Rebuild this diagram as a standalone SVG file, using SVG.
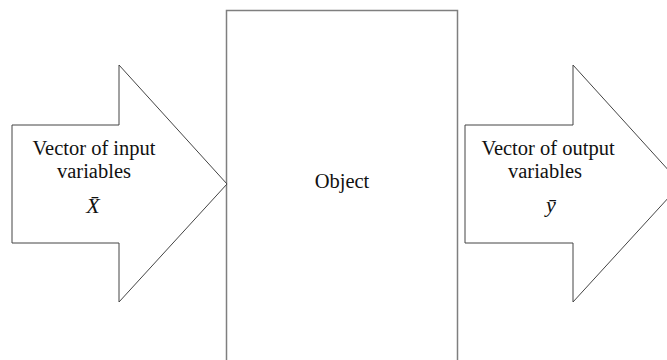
<svg xmlns="http://www.w3.org/2000/svg" width="667" height="360" viewBox="0 0 667 360">
<style>
.shape{fill:#ffffff;stroke:#444444;stroke-width:1}
.box{fill:#ffffff;stroke:#7f7f7f;stroke-width:1.5}
.t{font-family:"Liberation Serif","Times New Roman",serif;font-size:20.5px;fill:#111111;text-anchor:middle}
.m{font-family:"Liberation Serif","Times New Roman",serif;font-size:22px;font-style:italic;fill:#111111;text-anchor:middle}
</style>
<rect width="667" height="360" fill="#ffffff"/>
<g id="object">
<rect class="box" x="226.5" y="10.5" width="231" height="360"/>
<text class="t" x="342" y="188">Object</text>
</g>
<g id="input">
<path class="shape" d="M12,125 H119 V65 L227,184 L119,302 V243 H12 Z"/>
<text class="t" x="94" y="155">Vector of input</text>
<text class="t" x="94" y="178">variables</text>
<text class="m" x="93" y="213">X̄</text>
</g>
<g id="output">
<path class="shape" d="M465,125 H573 V65 L681,184 L573,302 V243 H465 Z"/>
<text class="t" x="548" y="155">Vector of output</text>
<text class="t" x="545" y="178">variables</text>
<text class="m" x="551" y="212">ȳ</text>
</g>
<g id="connectors"></g>
</svg>
